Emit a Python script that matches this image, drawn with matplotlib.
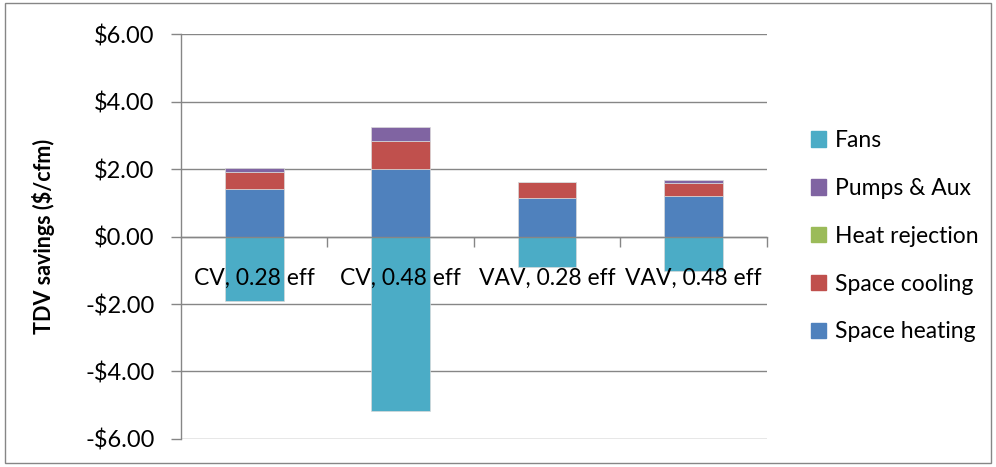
import numpy as np
import matplotlib.pyplot as plt
from matplotlib.patches import Patch

# categories and savings components ($/cfm)
categories = ["CV, 0.28 eff", "CV, 0.48 eff", "VAV, 0.28 eff", "VAV, 0.48 eff"]
space_heating = [1.42, 1.99, 1.14, 1.19]
space_cooling = [0.48, 0.83, 0.47, 0.40]
heat_rejection = [0.0, 0.0, 0.0, 0.0]
pumps_aux = [0.14, 0.42, 0.02, 0.08]
fans = [-1.90, -5.16, -0.89, -1.03]

series = [
    ("Space heating", space_heating, "#4F81BD"),
    ("Space cooling", space_cooling, "#C0504D"),
    ("Heat rejection", heat_rejection, "#9BBB59"),
    ("Pumps & Aux", pumps_aux, "#8064A2"),
    ("Fans", fans, "#4BACC6"),
]

plt.rcParams['font.family'] = ['Lato', 'DejaVu Sans']
grey = "#868686"

fig = plt.figure(figsize=(9.96, 4.67), dpi=100)
ax = fig.add_axes([0.1817, 0.060, 0.770 - 0.1817, 0.867])

x = np.arange(len(categories))
pos_bottom = np.zeros(len(categories))
neg_bottom = np.zeros(len(categories))
for name, vals, color in series:
    vals = np.array(vals, dtype=float)
    bottom = np.where(vals >= 0, pos_bottom, neg_bottom)
    ax.bar(x, vals, width=0.4, bottom=bottom, color=color,
           edgecolor="#d9d9d9", linewidth=0.5, zorder=2)
    pos_bottom += np.clip(vals, 0, None)
    neg_bottom += np.clip(vals, None, 0)

ax.set_xlim(-0.5, len(categories) - 0.5)
ax.set_ylim(-6, 6)
ax.set_yticks(np.arange(-6, 7, 2))
ax.set_yticklabels([f"${v:.2f}" if v >= 0 else f"-${-v:.2f}" for v in np.arange(-6, 7, 2)])
ax.yaxis.grid(True, color=grey, linewidth=1)
ax.set_axisbelow(True)
ax.tick_params(axis='y', length=7, color=grey, width=1, labelsize=17, pad=12)

# x axis sits at zero with ticks between categories
ax.spines['bottom'].set_position(('data', 0))
ax.set_xticks(np.arange(0.5, len(categories), 1))
ax.set_xticklabels([])
ax.tick_params(axis='x', length=7, color=grey, width=1)
for s in ['top', 'right']:
    ax.spines[s].set_visible(False)
for s in ['left', 'bottom']:
    ax.spines[s].set_color(grey)
    ax.spines[s].set_linewidth(1)

for xi, label in zip(x, categories):
    ax.annotate(label, (xi, 0), xytext=(0, -30), textcoords='offset points',
                ha='center', va='center', fontsize=16.5, zorder=5)

ax.set_ylabel("TDV savings ($/cfm)", fontsize=15.5, fontweight='bold')
ax.yaxis.set_label_coords(-0.215, 0.5)

handles = [Patch(color=c, label=n) for n, v, c in series][::-1]
fig.legend(handles=handles, loc='center left', bbox_to_anchor=(0.805, 0.494),
           frameon=False, fontsize=16.5, handlelength=0.65, handleheight=0.65,
           handletextpad=0.4, labelspacing=1.17, borderaxespad=0)

# outer chart border
fig.patches.append(plt.Rectangle((0.005, 0.008), 0.99, 0.985, transform=fig.transFigure,
                                 fill=False, edgecolor=grey, linewidth=1))

fig.savefig("out.png", dpi=100)
